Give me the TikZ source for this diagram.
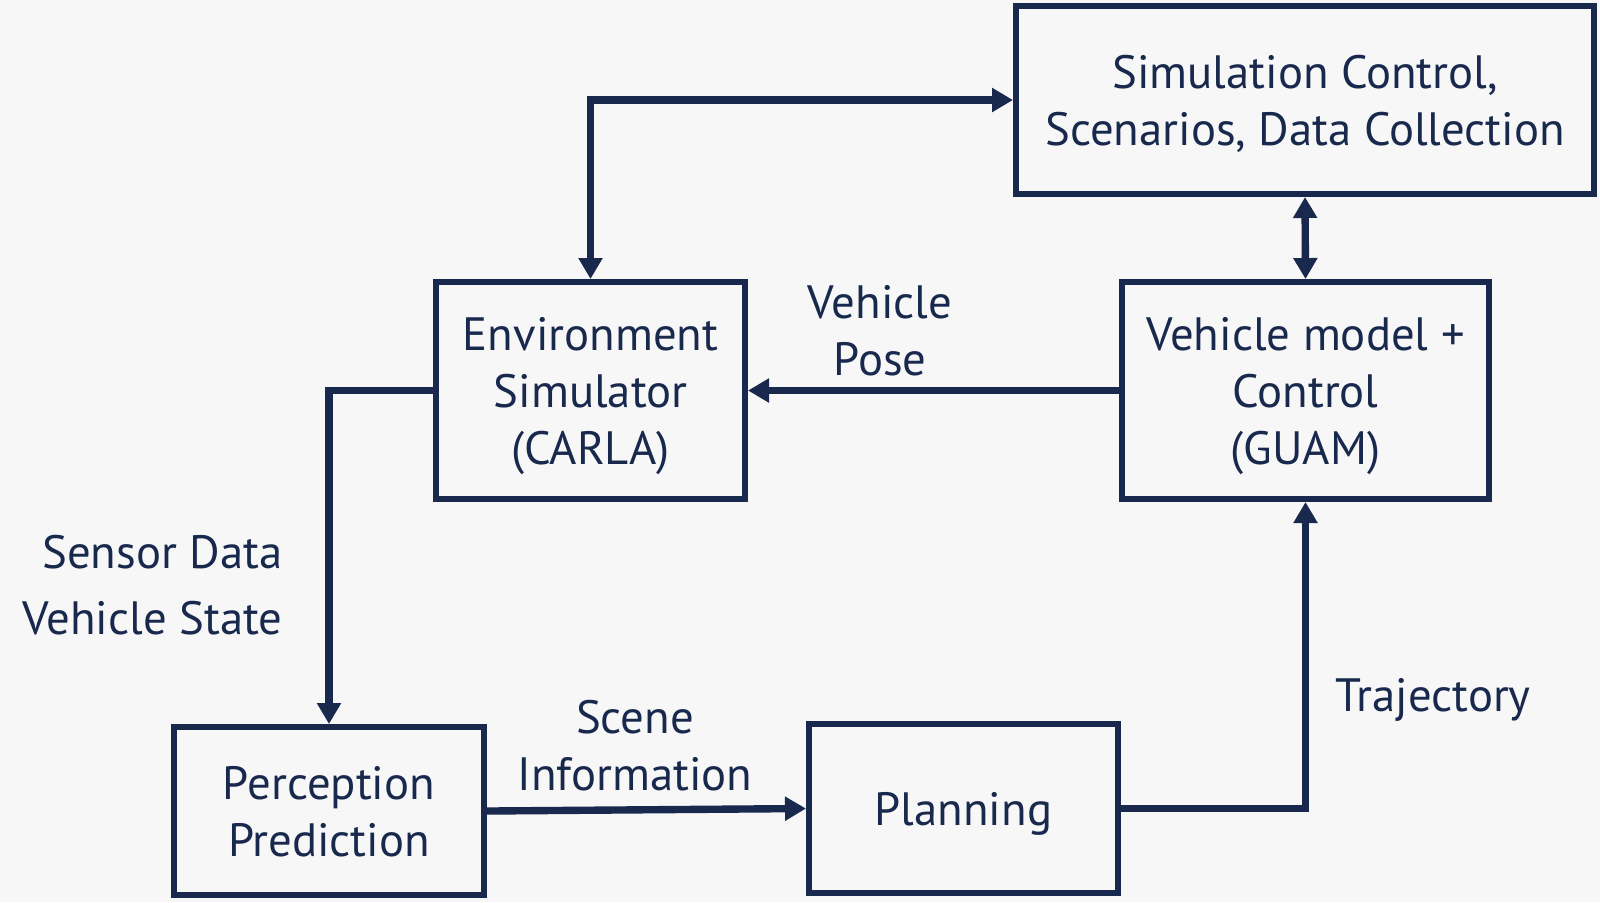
\documentclass[tikz,border=0pt]{standalone}
\usepackage{fontspec}
\setmainfont{PT Sans}
\usepackage{xcolor}
\usetikzlibrary{arrows.meta,positioning}
\definecolor{navy}{HTML}{18294D}
\definecolor{bgcol}{HTML}{F7F7F7}

\begin{document}
\begin{tikzpicture}[
  every node/.style={font=\fontsize{13.3}{16.2}\selectfont,text=navy,align=center},
  blk/.style={draw=navy,line width=1.7pt,inner sep=0pt,text depth=0pt},
  lbl/.style={inner sep=0pt},
  arr/.style={-{Triangle[length=2.1mm,width=2.3mm]},navy,line width=2.1pt},
  darr/.style={{Triangle[length=2.1mm,width=2.3mm]}-{Triangle[length=2.1mm,width=2.3mm]},navy,line width=2.1pt}]
\fill[bgcol] (0,0) rectangle (16,-9.02);
\useasboundingbox (0,0) rectangle (16,-9.02);
\node[blk,minimum width=5.78cm,minimum height=1.88cm] (sim) at (13.05,-1.0) {Simulation Control,\\Scenarios, Data Collection};
\node[blk,minimum width=3.09cm,minimum height=2.17cm] (env) at (5.905,-3.905) {Environment\\Simulator\\(CARLA)};
\node[blk,minimum width=3.67cm,minimum height=2.17cm] (veh) at (13.055,-3.905) {Vehicle model +\\Control\\(GUAM)};
\node[blk,minimum width=3.10cm,minimum height=1.68cm] (perc) at (3.29,-8.11) {Perception\\Prediction};
\node[blk,minimum width=3.09cm,minimum height=1.69cm] (plan) at (9.635,-8.085) {Planning};
\draw[darr] (env.north) |- (sim.west);
\draw[darr] (sim.south) -- (veh.north);
\draw[arr] (veh.west) -- (env.east);
\draw[arr] (env.west) -| (perc.north);
\draw[arr] (perc.east) -- (plan.west);
\draw[arr] (plan.east) -| (veh.south);
\node (pose) at (8.80,-3.31) {Vehicle\\Pose};
\node[lbl,anchor=east,align=right,font=\fontsize{13.3}{19}\selectfont] (sens) at (2.83,-5.85) {Sensor Data\\Vehicle State};
\node (scene) at (6.35,-7.46) {Scene\\Information};
\node[lbl,anchor=west] (traj) at (13.35,-7.0) {Trajectory};
\end{tikzpicture}
\end{document}
